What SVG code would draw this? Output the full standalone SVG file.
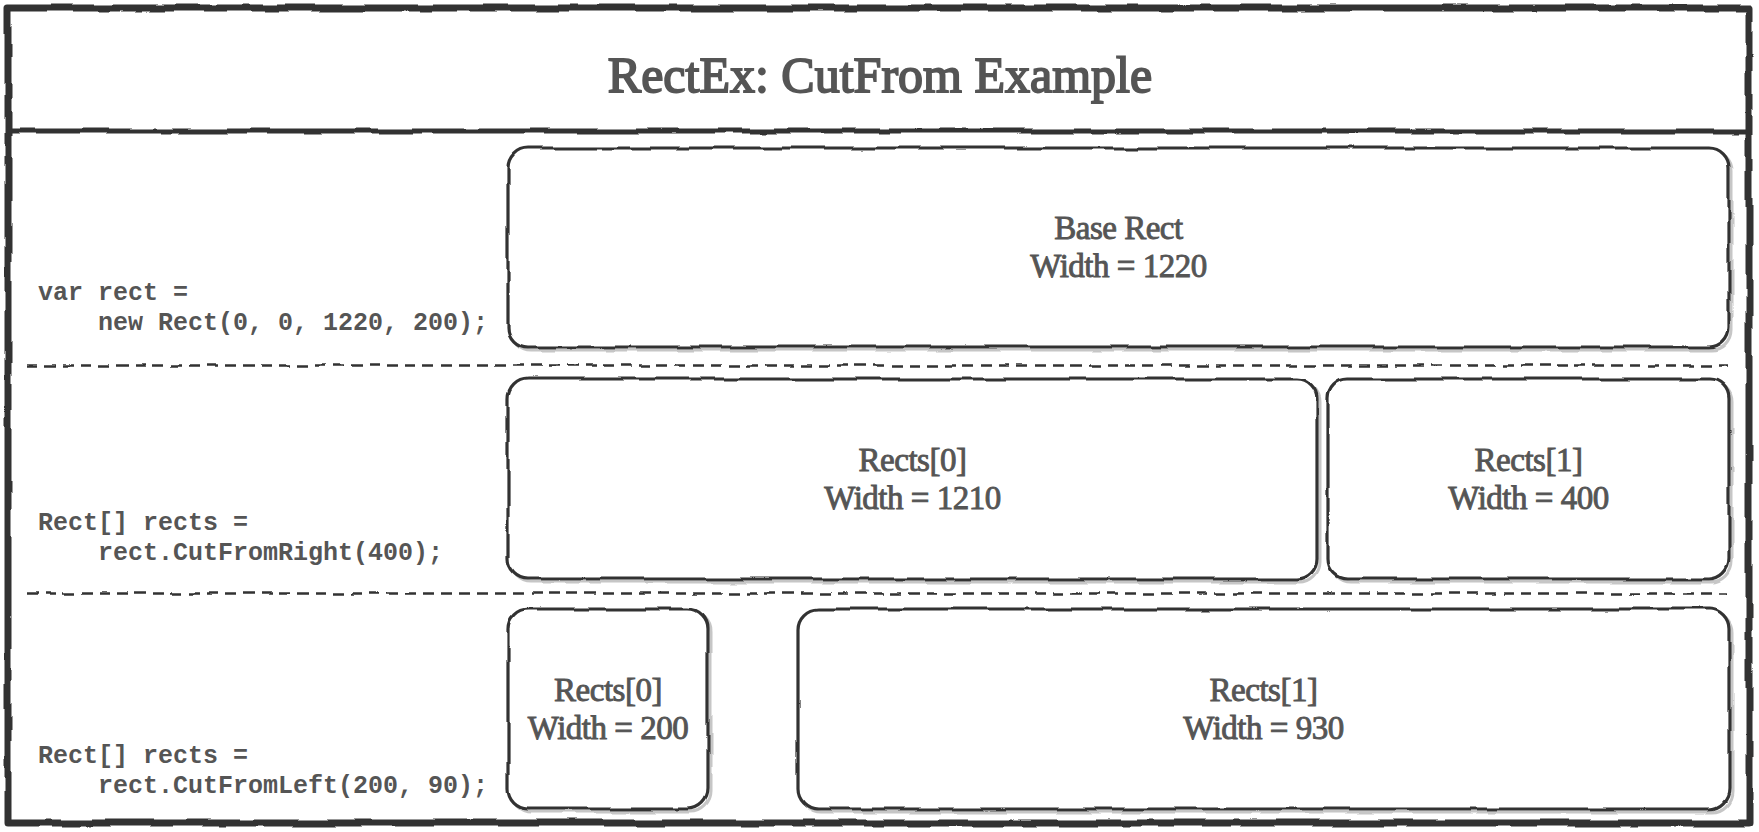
<svg xmlns="http://www.w3.org/2000/svg" width="1759" height="832" viewBox="0 0 1759 832">
<style>
.frame{fill:none;stroke:#333;stroke-width:7;stroke-linejoin:round}
.sep{fill:none;stroke:#333;stroke-width:5}
.box{fill:#fff;stroke:#333;stroke-width:3.2}
.shadow{fill:none;stroke:#c6c6c6;stroke-width:3}
.dash{fill:none;stroke:#333;stroke-width:2.6;stroke-dasharray:11 7}
.title{font-family:"Liberation Serif",serif;font-size:50px;fill:#555;stroke:#555;stroke-width:1.8;text-anchor:middle}
.lbl{font-family:"Liberation Serif",serif;font-size:33px;fill:#555;stroke:#555;stroke-width:0.9;text-anchor:middle;letter-spacing:-0.5px}
.code{font-family:"Liberation Mono",monospace;font-weight:bold;font-size:25px;fill:#555}
</style>
<defs>
<filter id="rough" filterUnits="userSpaceOnUse" x="0" y="0" width="1759" height="832">
<feTurbulence type="fractalNoise" baseFrequency="0.025" numOctaves="2" seed="4" result="n"/>
<feDisplacementMap in="SourceGraphic" in2="n" scale="5" xChannelSelector="R" yChannelSelector="G"/>
</filter>
</defs>
<rect width="1759" height="832" fill="#fff"/>
<g id="frame" filter="url(#rough)">
<rect class="frame" x="8" y="8" width="1741" height="815"/>
<line class="sep" x1="8" y1="131" x2="1749" y2="131"/>
</g>
<text class="title" x="880" y="91.5">RectEx: CutFrom Example</text>
<g id="separators" filter="url(#rough)">
<line class="dash" x1="27" y1="365.5" x2="1727" y2="365.5"/>
<line class="dash" x1="27" y1="593.5" x2="1727" y2="593.5"/>
</g>
<g id="code1">
<text class="code" x="38" y="300">var rect =</text>
<text class="code" x="98" y="330">new Rect(0, 0, 1220, 200);</text>
</g>
<g id="code2">
<text class="code" x="38" y="530">Rect[] rects =</text>
<text class="code" x="98" y="560">rect.CutFromRight(400);</text>
</g>
<g id="code3">
<text class="code" x="38" y="763">Rect[] rects =</text>
<text class="code" x="98" y="793">rect.CutFromLeft(200, 90);</text>
</g>
<g id="base-rect">
<g filter="url(#rough)">
<rect class="shadow" x="511" y="151" width="1221" height="199" rx="20"/>
<rect class="box" x="508" y="148" width="1221" height="199" rx="20"/>
</g>
<text class="lbl" x="1118.5" y="239">Base Rect</text>
<text class="lbl" x="1118.5" y="277">Width = 1220</text>
</g>
<g id="right-rects0">
<g filter="url(#rough)">
<rect class="shadow" x="511" y="382" width="809" height="200" rx="20"/>
<rect class="box" x="508" y="379" width="809" height="200" rx="20"/>
</g>
<text class="lbl" x="912.5" y="470.5">Rects[0]</text>
<text class="lbl" x="912.5" y="508.5">Width = 1210</text>
</g>
<g id="right-rects1">
<g filter="url(#rough)">
<rect class="shadow" x="1331" y="382" width="401" height="200" rx="20"/>
<rect class="box" x="1328" y="379" width="401" height="200" rx="20"/>
</g>
<text class="lbl" x="1528.5" y="470.5">Rects[1]</text>
<text class="lbl" x="1528.5" y="508.5">Width = 400</text>
</g>
<g id="left-rects0">
<g filter="url(#rough)">
<rect class="shadow" x="511" y="612" width="200" height="200" rx="20"/>
<rect class="box" x="508" y="609" width="200" height="200" rx="20"/>
</g>
<text class="lbl" x="608" y="700.5">Rects[0]</text>
<text class="lbl" x="608" y="738.5">Width = 200</text>
</g>
<g id="left-rects1">
<g filter="url(#rough)">
<rect class="shadow" x="801" y="612" width="931" height="200" rx="20"/>
<rect class="box" x="798" y="609" width="931" height="200" rx="20"/>
</g>
<text class="lbl" x="1263.5" y="700.5">Rects[1]</text>
<text class="lbl" x="1263.5" y="738.5">Width = 930</text>
</g>
</svg>
